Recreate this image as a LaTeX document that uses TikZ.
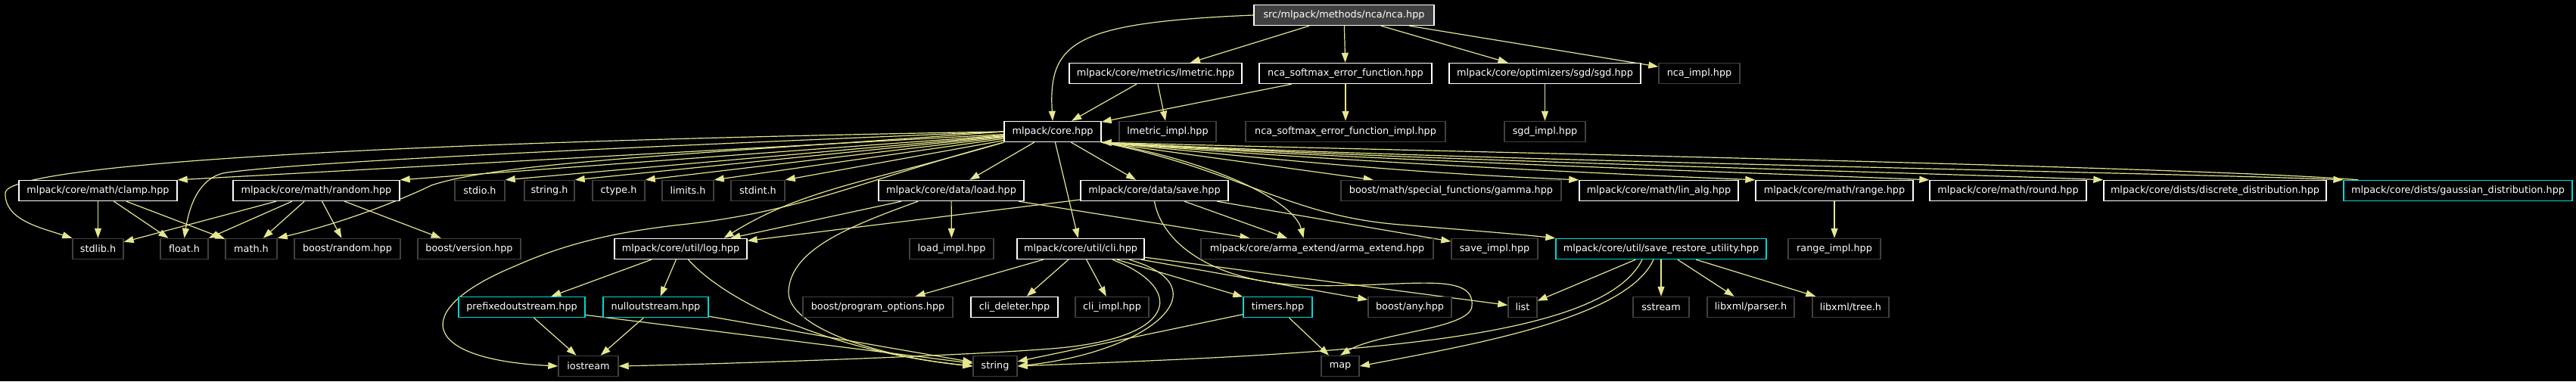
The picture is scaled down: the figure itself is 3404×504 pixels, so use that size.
\documentclass[tikz,border=0pt]{standalone}
\usepackage{fontspec}
\setmainfont{DejaVu Sans}
\usetikzlibrary{arrows.meta,calc}
\definecolor{edgec}{HTML}{E6E68F}
\definecolor{undocc}{HTML}{404040}
\definecolor{truncc}{HTML}{00D8D8}
\definecolor{rootfill}{HTML}{404040}
\pgfdeclarelayer{bottom}
\pgfdeclarelayer{edges}
\pgfsetlayers{bottom,edges,main}
\begin{document}
\begin{tikzpicture}[x=1pt,y=1pt,
  nbox/.style={rectangle, inner sep=0pt, minimum height=27pt, text=white, fill=black, line width=1.4pt, font=\fontsize{12.8}{15}\selectfont},
  docn/.style={nbox, draw=white},
  undocn/.style={nbox, draw=undocc},
  truncn/.style={nbox, draw=truncc},
  rootn/.style={nbox, draw=white, fill=rootfill},
  dep/.style={draw=edgec, line width=1.2pt, -{Triangle[length=13pt,width=9pt]}}]
\begin{pgfonlayer}{bottom}
\fill[black] (0,0) rectangle (3404,-504);
\end{pgfonlayer}
\useasboundingbox (0,0) rectangle (3404,-504);
% row 0
\node[rootn, minimum width=238pt] (root) at (1776,-20) {src/mlpack/methods/nca/nca.hpp};
% row 1
\node[docn, minimum width=228pt] (lmetric) at (1527,-97) {mlpack/core/metrics/lmetric.hpp};
\node[docn, minimum width=228pt] (ncasoft) at (1778,-97) {nca\_softmax\_error\_function.hpp};
\node[docn, minimum width=253pt] (sgd) at (2041.5,-97) {mlpack/core/optimizers/sgd/sgd.hpp};
\node[undocn, minimum width=107pt] (ncaimpl) at (2245.5,-97) {nca\_impl.hpp};
% row 2
\node[docn, minimum width=128pt] (core) at (1391,-174) {mlpack/core.hpp};
\node[undocn, minimum width=128pt] (lmetricimpl) at (1543,-174) {lmetric\_impl.hpp};
\node[undocn, minimum width=264pt] (ncasoftimpl) at (1778,-174) {nca\_softmax\_error\_function\_impl.hpp};
\node[undocn, minimum width=107pt] (sgdimpl) at (2041.5,-174) {sgd\_impl.hpp};
% row 3
\node[docn, minimum width=209pt] (clamp) at (129.5,-252) {mlpack/core/math/clamp.hpp};
\node[docn, minimum width=220pt] (random) at (418,-252) {mlpack/core/math/random.hpp};
\node[undocn, minimum width=66pt] (stdio) at (634,-252) {stdio.h};
\node[undocn, minimum width=66pt] (stringh) at (726,-252) {string.h};
\node[undocn, minimum width=69pt] (ctype) at (817.5,-252) {ctype.h};
\node[undocn, minimum width=68pt] (limits) at (909,-252) {limits.h};
\node[undocn, minimum width=71pt] (stdint) at (1001.5,-252) {stdint.h};
\node[docn, minimum width=192pt] (load) at (1257,-252) {mlpack/core/data/load.hpp};
\node[docn, minimum width=195pt] (save) at (1525.5,-252) {mlpack/core/data/save.hpp};
\node[undocn, minimum width=291pt] (gamma) at (1917.5,-252) {boost/math/special\_functions/gamma.hpp};
\node[docn, minimum width=210pt] (linalg) at (2192,-252) {mlpack/core/math/lin\_alg.hpp};
\node[docn, minimum width=208pt] (range) at (2424,-252) {mlpack/core/math/range.hpp};
\node[docn, minimum width=207pt] (round) at (2653.5,-252) {mlpack/core/math/round.hpp};
\node[docn, minimum width=294pt] (discrete) at (2927,-252) {mlpack/core/dists/discrete\_distribution.hpp};
\node[truncn, minimum width=302pt] (gaussian) at (3248,-252) {mlpack/core/dists/gaussian\_distribution.hpp};
% row 4
\node[undocn, minimum width=67pt] (stdlib) at (129.5,-329) {stdlib.h};
\node[undocn, minimum width=63pt] (floath) at (243.5,-329) {float.h};
\node[undocn, minimum width=68pt] (mathh) at (332,-329) {math.h};
\node[undocn, minimum width=140pt] (brandom) at (459,-329) {boost/random.hpp};
\node[undocn, minimum width=136pt] (bversion) at (620,-329) {boost/version.hpp};
\node[docn, minimum width=175pt] (log) at (899.5,-329) {mlpack/core/util/log.hpp};
\node[undocn, minimum width=111pt] (loadimpl) at (1257.5,-329) {load\_impl.hpp};
\node[docn, minimum width=168pt] (cli) at (1428,-329) {mlpack/core/util/cli.hpp};
\node[undocn, minimum width=307pt] (arma) at (1740.5,-329) {mlpack/core/arma\_extend/arma\_extend.hpp};
\node[undocn, minimum width=114pt] (saveimpl) at (1975,-329) {save\_impl.hpp};
\node[truncn, minimum width=278pt] (sru) at (2195,-329) {mlpack/core/util/save\_restore\_utility.hpp};
\node[undocn, minimum width=122pt] (rangeimpl) at (2424,-329) {range\_impl.hpp};
% row 5
\node[truncn, minimum width=167pt] (prefixed) at (689.5,-406) {prefixedoutstream.hpp};
\node[truncn, minimum width=139pt] (nullout) at (866.5,-406) {nulloutstream.hpp};
\node[undocn, minimum width=198pt] (progopt) at (1160,-406) {boost/program\_options.hpp};
\node[docn, minimum width=115pt] (clideleter) at (1340.5,-406) {cli\_deleter.hpp};
\node[undocn, minimum width=97pt] (cliimpl) at (1469.5,-406) {cli\_impl.hpp};
\node[truncn, minimum width=91pt] (timers) at (1688.5,-406) {timers.hpp};
\node[undocn, minimum width=110pt] (bany) at (1863,-406) {boost/any.hpp};
\node[undocn, minimum width=38pt] (list) at (2012,-406) {list};
\node[undocn, minimum width=74pt] (sstream) at (2195,-406) {sstream};
\node[undocn, minimum width=115pt] (parser) at (2313.5,-406) {libxml/parser.h};
\node[undocn, minimum width=101pt] (tree) at (2445.5,-406) {libxml/tree.h};
% row 6
\node[undocn, minimum width=79pt] (iostream) at (777.5,-484) {iostream};
\node[undocn, minimum width=58pt] (string) at (1315,-484) {string};
\node[undocn, minimum width=50pt] (map) at (1771,-484) {map};

\begin{pgfonlayer}{edges}
% from root
\draw[dep] (root.west) .. controls (1420,-30) and (1385,-55) .. (core.north);
\draw[dep] (root) -- (lmetric);
\draw[dep] (root) -- (ncasoft);
\draw[dep] (root) -- (sgd);
\draw[dep] (root) -- (ncaimpl);
\draw[dep] (lmetric) -- (core);
\draw[dep] (lmetric) -- (lmetricimpl);
\draw[dep] (ncasoft) -- (core);
\draw[dep] (ncasoft) -- (ncasoftimpl);
\draw[dep] (sgd) -- (sgdimpl);
% core, leftwards
\draw[dep] (core.west) .. controls (400,-190) and (8,-222) .. (7,-255) .. controls (6,-290) and (50,-300) .. (stdlib.north west);
\draw[dep] (core) -- (clamp.north east);
\draw[dep] (core.west) .. controls (700,-200) and (400,-215) .. (300,-228) .. controls (270,-232) and (252,-260) .. (floath.north);
\draw[dep] (core) -- (random.north east);
\draw[dep] (core.west) .. controls (900,-205) and (660,-215) .. (570,-245) .. controls (548,-256) and (465,-292) .. (mathh.north east);
\draw[dep] (core) -- (stdio.north east);
\draw[dep] (core) -- (stringh.north east);
\draw[dep] (core) -- (ctype.north east);
\draw[dep] (core) -- (limits.north east);
\draw[dep] (core) -- (stdint.north east);
\draw[dep] (core.south west) .. controls (1150,-240) and (1060,-250) .. ($(log.north)+(57,0)$);
\draw[dep] (core.south west) .. controls (1140,-238) and (1060,-280) .. (900,-297) .. controls (790,-309) and (730,-330) .. (680,-352) .. controls (540,-410) and (555,-475) .. (iostream.west);
% core, downwards and rightwards
\draw[dep] (core) -- (load);
\draw[dep] (core) -- (cli);
\draw[dep] (core) -- (save);
\draw[dep] (core.south east) .. controls (1600,-212) and (1710,-265) .. ($(arma.north)+(-18,0)$);
\draw[dep] (core.south east) -- (gamma);
\draw[dep] (core.south east) .. controls (1640,-225) and (1700,-285) .. (1850,-297) .. controls (1950,-305) and (2010,-310) .. (sru.north west);
\draw[dep] (core.south east) .. controls (1700,-212) and (1850,-228) .. (linalg.north west);
\draw[dep] (core.south east) .. controls (1750,-212) and (2080,-228) .. (range.north west);
\draw[dep] (core.south east) .. controls (1800,-212) and (2310,-228) .. (round.north west);
\draw[dep] (core.south east) .. controls (1850,-212) and (2540,-228) .. (discrete.north west);
\draw[dep] (core.south east) .. controls (1900,-212) and (2860,-228) .. (gaussian.north west);
\draw[dep] ($(gaussian.north west)+(20,0)$) .. controls (2900,-220) and (1800,-198) .. (core.south east);
% clamp, random
\draw[dep] (clamp) -- (stdlib);
\draw[dep] (clamp) -- (floath);
\draw[dep] (clamp) -- (mathh);
\draw[dep] (random) -- (stdlib);
\draw[dep] (random) -- (floath);
\draw[dep] (random) -- (mathh);
\draw[dep] (random) -- (brandom);
\draw[dep] (random) -- (bversion);
% load
\draw[dep] (load) -- (log);
\draw[dep] (load) -- (loadimpl);
\draw[dep] (load) -- (arma);
\draw[dep] ($(load.south)+(-44,0)$) .. controls (1120,-300) and (1045,-330) .. (1042,-385) .. controls (1040,-430) and (1150,-470) .. (string.west);
% save
\draw[dep] (save) -- (log);
\draw[dep] (save) -- (arma);
\draw[dep] (save) -- (saveimpl);
\draw[dep] (save.south) .. controls (1535,-320) and (1600,-372) .. (1720,-377) .. controls (1850,-382) and (1950,-355) .. (1945,-405) .. controls (1942,-435) and (1820,-440) .. (map.north);
% range
\draw[dep] (range) -- (rangeimpl);
% log
\draw[dep] (log) -- (prefixed);
\draw[dep] (log) -- (nullout);
\draw[dep] ($(log.south)+(10,0)$) .. controls (960,-400) and (1100,-465) .. (string.west);
\draw[dep] (prefixed) -- (iostream);
\draw[dep] (prefixed) -- (string);
\draw[dep] (nullout) -- (iostream);
\draw[dep] (nullout) -- (string);
% cli
\draw[dep] (cli) -- (progopt);
\draw[dep] (cli) -- (clideleter);
\draw[dep] (cli) -- (cliimpl);
\draw[dep] (cli) -- (timers);
\draw[dep] (cli) -- (bany);
\draw[dep] (cli) -- (list);
\draw[dep] ($(cli.south)+(64,0)$) .. controls (1620,-380) and (1520,-465) .. (string.east);
\draw[dep] ($(cli.south)+(42,0)$) .. controls (1565,-380) and (1560,-445) .. (1400,-460) .. controls (1300,-469) and (1000,-480) .. (iostream.east);
% timers
\draw[dep] (timers) -- (map);
\draw[dep] (timers) -- (string);
% save_restore_utility
\draw[dep] (sru) -- (list);
\draw[dep] (sru) -- (sstream);
\draw[dep] (sru) -- (parser);
\draw[dep] (sru) -- (tree);
\draw[dep] ($(sru.south)+(-10,0)$) .. controls (2150,-420) and (1950,-455) .. (map.east);
\draw[dep] ($(sru.south)+(-25,0)$) .. controls (2115,-455) and (1750,-468) .. (string.east);
\end{pgfonlayer}
\end{tikzpicture}
\end{document}
